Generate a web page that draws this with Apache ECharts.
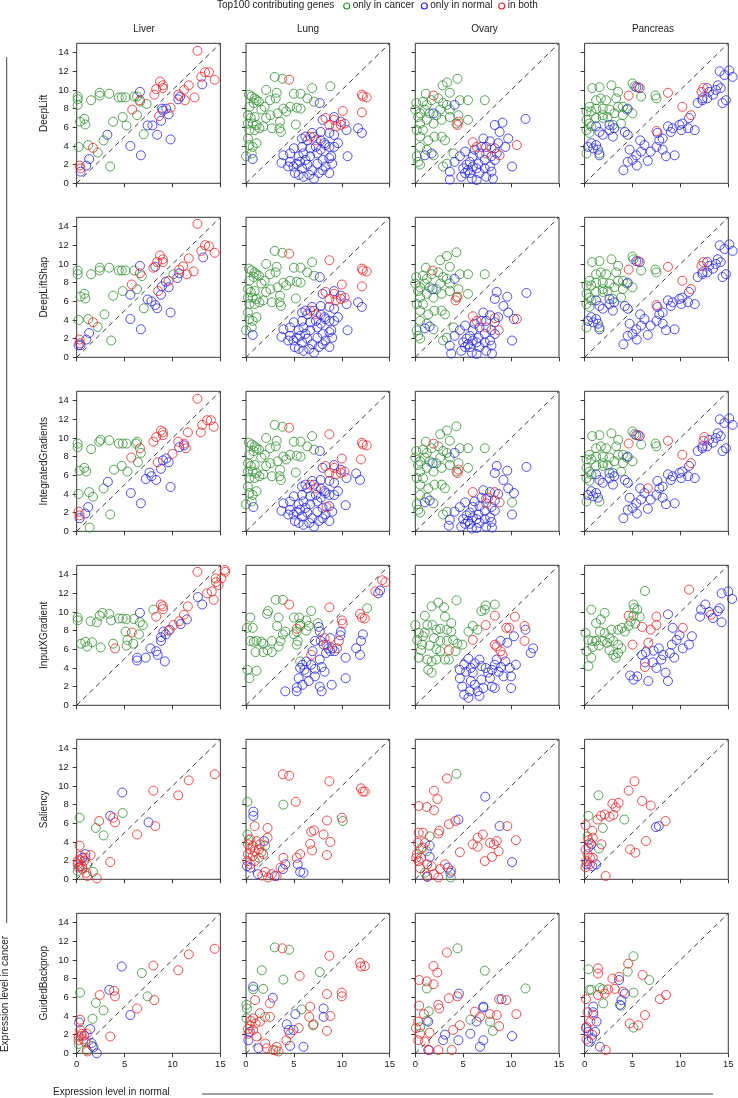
<!DOCTYPE html>
<html><head><meta charset="utf-8">
<script src="https://cdn.jsdelivr.net/npm/echarts@6/dist/echarts.min.js"></script>
<style>html,body{margin:0;padding:0;background:#fff}#c{width:738px;height:1098px}</style>
</head><body><div id="c"></div>
<script>
var tissues = ['Liver','Lung','Ovary','Pancreas'];
var methods = ['DeepLift','DeepLiftShap','IntegratedGradients','InputXGradient','Saliency','GuidedBackprop'];
var groupKeys = ['cancer','normal','both'];
var groupNames = ['only in cancer','only in normal','in both'];
var groupColors = ['#2f8f2f','#2424ee','#ee2424'];
var xTicks = [0,5,10,15];
var yTicks = [0,2,4,6,8,10,12,14];
var diagonal = [[0,0],[15,15]];

// ---- Liver ----
var DeepLift_Liver_cancer = [0.1,9.3, 0.1,9.0, 0.1,8.4, 0.35,6.6, 0.8,6.9, 0.9,6.3, 0.2,3.9, 1.2,4.1, 1.5,8.9, 2.4,9.4, 2.4,9.7, 3.4,9.6, 4.4,9.2, 4.7,9.2, 5.1,9.2, 6.0,9.3, 6.3,9.3, 3.8,6.6, 4.8,7.1, 5.2,6.2, 6.3,7.3, 6.6,8.75, 7.0,5.25, 7.3,8.5, 2.8,4.6, 3.5,1.8, 2.2,3.3];
var DeepLift_Liver_normal = [6.6,9.8, 3.2,5.2, 5.6,4.0, 6.7,3.0, 7.4,6.2, 7.9,6.2, 8.4,5.2, 8.8,6.7, 9.0,7.8, 9.35,8.0, 9.6,7.4, 9.8,4.7, 10.6,9.0, 10.8,9.3, 13.1,10.6, 1.3,2.6, 1.0,1.9, 0.4,1.25, 8.9,8.0];
var DeepLift_Liver_both = [12.6,14.2, 13.0,11.4, 13.4,11.9, 13.8,11.9, 14.4,11.1, 12.3,9.2, 11.7,10.5, 11.3,8.9, 10.6,9.5, 11.2,10.0, 8.7,10.9, 9.0,10.5, 9.0,10.2, 8.3,10.1, 8.1,9.5, 6.6,8.9, 5.8,7.9, 8.6,7.2, 9.8,8.1, 1.7,3.8, 0.3,1.9, 0.4,1.6];
var DeepLiftShap_Liver_cancer = [0.1,9.3, 0.1,8.9, 0.4,6.5, 0.8,6.8, 0.9,6.3, 0.2,4.0, 1.2,4.1, 1.5,8.9, 2.4,9.3, 2.4,9.6, 3.4,9.6, 4.4,9.3, 4.7,9.3, 5.1,9.3, 6.0,9.3, 3.8,6.6, 4.8,7.1, 6.3,7.3, 6.8,8.7, 7.0,5.25, 2.2,3.25, 2.9,4.6, 3.6,1.8, 10.1,8.9];
var DeepLiftShap_Liver_normal = [6.6,9.8, 8.2,9.7, 5.6,6.7, 5.6,4.1, 6.7,3.0, 7.4,6.2, 7.8,6.0, 8.2,5.6, 8.4,5.25, 8.8,6.7, 8.9,7.6, 9.3,8.1, 9.6,7.5, 9.8,4.8, 10.5,8.5, 10.7,9.0, 13.2,10.7, 1.3,2.6, 1.0,1.9, 0.2,1.3, 0.4,1.3];
var DeepLiftShap_Liver_both = [12.6,14.3, 13.0,11.4, 13.4,12.0, 13.8,11.9, 14.4,11.2, 12.2,9.2, 11.7,10.6, 11.5,8.9, 11.1,9.75, 10.7,9.4, 8.7,10.9, 9.0,10.5, 9.0,10.2, 8.4,10.2, 8.0,9.6, 5.75,7.8, 6.6,9.0, 8.5,7.1, 9.6,8.2, 1.7,3.75, 0.3,1.9, 0.35,1.5];
var IntegratedGradients_Liver_cancer = [0.1,9.4, 0.1,9.0, 0.3,6.5, 0.8,6.8, 1.0,6.4, 0.2,4.0, 1.3,4.2, 1.5,8.8, 2.35,9.6, 2.5,9.8, 3.4,9.75, 4.4,9.4, 4.8,9.4, 5.2,9.4, 6.2,9.4, 6.3,9.6, 3.9,6.6, 4.7,7.0, 5.3,6.4, 6.4,7.4, 6.7,8.4, 2.8,4.6, 3.5,1.8, 1.35,0.4, 1.7,3.7];
var IntegratedGradients_Liver_normal = [3.25,5.3, 5.65,4.1, 6.7,3.0, 7.2,5.6, 7.6,6.3, 7.8,5.9, 8.3,5.5, 8.8,6.7, 9.0,7.6, 9.35,7.8, 9.6,7.4, 9.8,4.75, 10.7,9.0, 11.2,9.2, 1.2,2.6, 0.9,1.9, 0.3,1.4];
var IntegratedGradients_Liver_both = [12.6,14.2, 13.1,11.4, 13.6,11.9, 14.0,11.9, 14.3,11.2, 12.95,10.6, 11.6,10.6, 11.4,8.9, 11.2,9.4, 10.6,9.6, 8.8,10.8, 9.0,10.6, 9.0,10.3, 8.3,10.1, 8.0,9.6, 6.6,8.9, 5.7,7.9, 8.45,7.4, 10.0,8.3, 0.2,2.1, 0.3,1.7];
var InputXGradient_Liver_cancer = [0.1,9.4, 0.1,9.1, 0.45,6.6, 0.9,6.8, 1.1,6.3, 1.6,6.75, 2.5,6.2, 1.45,9.0, 2.1,8.9, 2.4,9.6, 2.7,9.9, 3.4,9.8, 3.6,9.1, 4.4,9.3, 4.8,9.3, 5.2,9.25, 5.95,9.25, 6.6,8.9, 6.9,8.6, 5.1,7.9, 5.3,7.0, 5.2,6.4, 5.9,6.6, 6.5,7.6, 3.8,6.6, 8.0,10.25];
var InputXGradient_Liver_normal = [6.6,9.9, 6.3,5.1, 6.3,4.8, 7.2,5.1, 7.7,6.1, 8.3,5.8, 8.45,5.4, 9.2,4.7, 8.8,6.9, 9.05,7.9, 9.3,7.6, 9.7,8.1, 8.8,7.3, 10.85,8.7, 11.5,9.2, 12.65,11.6, 13.1,10.8];
var InputXGradient_Liver_both = [12.6,14.3, 15.45,14.5, 15.5,14.3, 14.5,13.6, 14.55,13.2, 14.8,12.9, 15.1,13.6, 13.6,12.0, 14.1,12.2, 14.3,11.3, 8.8,10.8, 9.0,10.6, 9.0,10.3, 8.3,9.5, 4.0,6.1, 5.75,7.8, 11.6,10.6, 11.2,9.7, 10.7,9.0, 10.1,8.6, 9.6,8.0];
var Saliency_Liver_cancer = [0.3,6.6, 2.0,5.5, 2.8,4.7, 4.8,7.1, 0.1,0.9, 1.7,0.8, 1.1,1.6];
var Saliency_Liver_normal = [4.75,9.3, 3.5,6.8, 7.5,6.1, 0.9,2.7, 0.6,2.3, 0.3,1.4];
var Saliency_Liver_both = [8.0,9.5, 11.7,10.6, 10.6,9.0, 14.4,11.25, 4.0,6.1, 2.35,6.25, 8.2,5.7, 6.3,4.8, 3.5,1.85, 0.3,3.6, 0.1,1.6, 0.3,2.1, 0.55,1.4, 0.8,2.0, 0.4,2.5, 1.0,0.7, 1.45,2.6, 1.1,0.35, 2.1,0.1, 0.2,1.25, 0.6,1.1, 0.9,2.3, 0.1,1.95, 3.8,6.6];
var GuidedBackprop_Liver_cancer = [0.35,6.5, 2.0,5.4, 2.8,4.6, 1.65,3.7, 6.8,8.6, 7.4,6.1, 1.05,0.35, 1.6,0.8, 0.2,1.0];
var GuidedBackprop_Liver_normal = [4.7,9.3, 3.4,6.8, 5.6,4.1, 0.25,3.3, 1.4,2.6, 1.55,1.1, 1.75,0.65, 2.1,0.0, 0.8,1.9];
var GuidedBackprop_Liver_both = [8.0,9.4, 10.6,8.9, 11.7,10.6, 14.4,11.2, 3.9,6.7, 4.0,6.1, 2.4,6.25, 8.1,5.7, 6.3,4.8, 3.5,1.8, 0.35,3.6, 0.2,1.8, 0.35,2.5, 0.5,2.1, 0.7,1.5, 0.2,1.4, 1.05,2.1, 1.1,0.2, 0.5,1.9, 0.9,1.2];

// ---- Lung ----
var DeepLift_Lung_cancer = [0.3,9.5, 0.6,9.3, 0.9,9.1, 1.1,8.9, 0.35,8.2, 0.8,8.6, 1.35,8.75, 0.2,7.3, 0.5,7.0, 0.9,7.1, 0.2,6.4, 0.7,6.4, 1.1,6.25, 1.6,7.9, 0.35,5.7, 0.9,5.7, 1.4,5.9, 0.2,4.8, 0.35,4.1, 0.7,3.9, 1.1,4.3, 0,2.9, 0.6,3.2, 2.1,10.0, 3.0,11.4, 3.8,11.2, 3.2,9.7, 3.1,9.1, 2.5,8.9, 1.95,8.2, 2.55,7.3, 3.3,7.5, 3.55,6.6, 3.5,5.9, 3.65,5.5, 2.7,5.9, 1.8,6.1, 5.0,9.6, 5.7,9.6, 6.4,9.1, 6.9,10.2, 8.8,10.4, 3.9,8.0, 4.6,8.2, 5.3,8.1, 5.7,8.0, 5.2,6.3, 7.1,8.75, 4.2,7.7, 2.1,7.0];
var DeepLift_Lung_normal = [7.7,8.6, 8.0,6.8, 9.2,7.1, 9.9,6.6, 10.5,5.7, 11.7,5.9, 12.1,5.4, 10.6,2.9, 9.0,2.1, 8.7,2.7, 8.7,5.4, 9.2,5.2, 9.2,3.9, 8.3,4.1, 0.7,2.6, 3.7,2.2, 4.6,3.2, 5.0,3.75, 4.6,2.3, 4.4,1.8, 5.1,1.1, 5.5,0.9, 6.0,0.7, 7.1,0.5, 5.85,1.6, 6.4,2.0, 6.9,1.4, 7.6,1.1, 8.0,1.4, 7.45,2.1, 6.7,2.9, 6.0,3.2, 5.5,2.9, 5.3,2.1, 5.85,3.9, 6.4,4.6, 7.1,5.0, 7.3,3.9, 7.8,3.6, 6.7,3.75, 6.2,5.0, 7.8,4.6, 8.2,4.3, 8.3,1.8, 8.7,1.1, 8.0,2.5, 4.95,1.8, 5.65,2.3, 6.2,2.5, 6.6,0.9, 7.45,3.2, 8.9,2.9, 7.8,5.5, 6.9,5.4, 8.7,3.9, 9.6,4.3, 3.9,3.0, 5.85,4.8];
var DeepLift_Lung_both = [4.5,11.1, 12.1,9.5, 12.2,9.3, 12.6,9.2, 12.1,7.6, 10.1,7.75, 8.3,7.0, 9.2,6.8, 8.7,6.25, 9.9,6.25, 10.3,6.4, 9.4,6.1, 6.7,5.0, 7.3,4.6];
var DeepLiftShap_Lung_cancer = [0.3,9.5, 0.6,9.3, 0.9,9.1, 1.1,8.9, 0.35,8.2, 0.8,8.6, 1.35,8.75, 0.2,7.3, 0.5,7.0, 0.9,7.1, 0.2,6.4, 0.7,6.4, 1.1,6.25, 1.6,7.9, 0.35,5.7, 0.9,5.7, 1.4,5.9, 0.2,4.8, 0.35,4.1, 0.7,3.9, 1.1,4.3, 0,2.9, 0.6,3.2, 2.1,10.0, 3.0,11.4, 3.8,11.2, 3.2,9.7, 3.1,9.1, 2.5,8.9, 1.95,8.2, 2.55,7.3, 3.3,7.5, 3.55,6.6, 3.5,5.9, 3.65,5.5, 2.7,5.9, 1.8,6.1, 5.0,9.6, 5.7,9.6, 6.4,9.1, 6.9,10.2, 3.9,8.0, 4.6,8.2, 5.3,8.1, 5.7,8.0, 5.2,6.3, 7.1,8.75, 4.2,7.7, 2.1,7.0];
var DeepLiftShap_Lung_normal = [7.7,8.6, 8.0,6.8, 9.2,7.1, 9.9,6.6, 10.5,5.7, 11.7,5.9, 12.1,5.4, 10.6,2.9, 9.0,2.1, 8.7,2.7, 8.7,5.4, 9.2,5.2, 9.2,3.9, 8.3,4.1, 0.7,2.4, 3.7,2.2, 4.6,3.2, 5.0,3.75, 4.6,2.3, 4.4,1.8, 5.1,1.1, 5.5,0.9, 6.0,0.7, 7.1,0.5, 5.85,1.6, 6.4,2.0, 6.9,1.4, 7.6,1.1, 8.0,1.4, 7.45,2.1, 6.7,2.9, 6.0,3.2, 5.5,2.9, 5.3,2.1, 5.85,3.9, 6.4,4.6, 7.1,5.0, 7.3,3.9, 7.8,3.6, 6.7,3.75, 6.2,5.0, 7.8,4.6, 8.2,4.3, 8.3,1.8, 8.7,1.1, 8.0,2.5, 4.95,1.8, 5.65,2.3, 6.2,2.5, 6.6,0.9, 7.45,3.2, 8.9,2.9, 7.8,5.5, 6.9,5.4, 8.7,3.9, 9.6,4.3, 3.9,3.0, 5.85,4.8];
var DeepLiftShap_Lung_both = [4.5,11.1, 8.7,10.4, 12.1,9.5, 12.2,9.3, 12.6,9.2, 12.1,7.6, 10.0,7.8, 8.3,7.0, 9.2,6.8, 8.7,6.25, 9.9,6.25, 10.3,6.4, 9.4,6.1, 6.7,5.0, 7.3,4.6];
var IntegratedGradients_Lung_cancer = [0.3,9.5, 0.6,9.3, 0.9,9.1, 1.1,8.9, 0.35,8.2, 0.8,8.6, 1.35,8.75, 0.2,7.3, 0.5,7.0, 0.9,7.1, 0.2,6.4, 0.7,6.4, 1.1,6.25, 1.6,7.9, 0.35,5.7, 0.9,5.7, 1.4,5.9, 0.2,4.8, 0.35,4.1, 0.7,3.9, 1.1,4.3, 0,2.9, 0.6,3.2, 2.1,10.0, 3.0,11.4, 3.8,11.2, 3.2,9.7, 3.1,9.1, 2.5,8.9, 1.95,8.2, 2.55,7.3, 3.3,7.5, 3.55,6.6, 3.5,5.9, 3.65,5.5, 2.7,5.9, 1.8,6.1, 5.0,9.6, 5.7,9.6, 6.4,9.1, 6.9,10.2, 3.9,8.0, 4.6,8.2, 5.3,8.1, 5.7,8.0, 5.2,6.3, 7.1,8.75, 4.2,7.7, 2.1,7.0];
var IntegratedGradients_Lung_normal = [7.7,8.6, 8.0,6.8, 9.2,7.1, 9.9,6.6, 10.5,5.7, 11.5,6.2, 11.9,5.5, 10.4,2.8, 9.0,2.1, 8.7,2.7, 8.7,5.4, 9.2,5.2, 9.2,3.9, 8.3,4.1, 0.77,2.6, 3.7,2.2, 4.6,3.2, 5.0,3.75, 4.6,2.3, 4.4,1.8, 5.1,1.1, 5.5,0.9, 6.0,0.7, 7.1,0.5, 5.85,1.6, 6.4,2.0, 6.9,1.4, 7.6,1.1, 8.0,1.4, 7.45,2.1, 6.7,2.9, 6.0,3.2, 5.5,2.9, 5.3,2.1, 5.85,3.9, 6.4,4.6, 7.1,5.0, 7.3,3.9, 7.8,3.6, 6.7,3.75, 6.2,5.0, 7.8,4.6, 8.2,4.3, 8.3,1.8, 8.7,1.1, 8.0,2.5, 4.95,1.8, 5.65,2.3, 6.2,2.5, 6.6,0.9, 7.45,3.2, 7.8,5.5, 6.9,5.4, 8.7,3.9, 9.6,4.3, 3.9,3.0, 5.85,4.8];
var IntegratedGradients_Lung_both = [4.5,11.1, 8.7,10.4, 12.1,9.5, 12.2,9.3, 12.6,9.2, 12.0,7.7, 10.0,7.8, 8.3,7.0, 9.2,6.8, 8.7,6.25, 9.9,6.25, 10.3,6.4, 9.4,6.1, 6.7,5.0, 7.3,4.6, 8.4,2.6];
var InputXGradient_Lung_cancer = [0.36,2.9, 0.15,3.8, 1.1,3.7, 0.1,8.3, 0.45,9.4, 0.7,8.3, 0.45,6.9, 0.8,6.8, 1.1,6.9, 1.6,6.8, 1.8,6.6, 1.0,5.7, 1.8,5.7, 2.25,5.9, 2.7,5.7, 2.7,6.9, 3.1,11.3, 3.85,11.3, 2.2,9.8, 2.3,10.1, 3.4,9.4, 3.25,8.5, 3.85,7.6, 4.1,7.9, 3.6,6.9, 3.4,6.3, 5.0,9.4, 5.55,9.4, 6.8,10.1, 7.5,8.8, 5.65,8.7, 5.65,8.5, 5.0,7.6, 5.3,7.9, 5.4,6.9, 5.3,6.5, 5.65,4.7, 6.3,8.0, 6.55,8.5, 6.3,9.1, 12.65,10.4];
var InputXGradient_Lung_normal = [7.6,8.4, 13.8,12.0, 14.0,12.3, 12.2,7.6, 12.0,6.9, 11.5,6.1, 11.9,5.4, 10.4,5.1, 10.4,2.9, 9.9,7.9, 4.1,1.5, 5.3,1.9, 5.3,1.5, 5.5,2.9, 5.65,4.0, 6.1,3.8, 6.3,4.7, 6.8,4.35, 7.2,3.9, 7.7,4.9, 7.8,6.9, 8.1,6.5, 8.6,6.1, 8.8,5.8, 8.35,5.6, 9.0,6.1, 9.25,5.8, 7.9,4.1, 8.2,3.6, 7.2,3.1, 6.55,2.6, 5.9,2.2, 7.7,2.0, 7.9,1.5, 8.95,2.2, 5.9,4.35, 6.95,5.8, 7.2,6.9, 7.7,7.9, 6.3,3.5, 8.8,7.2, 9.85,7.5];
var InputXGradient_Lung_both = [4.5,10.8, 8.7,10.5, 10.0,9.1, 10.1,8.75, 5.3,8.2, 11.9,9.8, 12.1,9.4, 12.4,9.3, 13.5,12.2, 14.2,13.4, 14.55,13.2, 8.2,7.2, 9.5,6.1, 9.7,6.9, 6.8,5.4, 8.4,6.5];
var Saliency_Lung_cancer = [0.15,8.3, 0.15,4.8, 3.9,8.0, 10.1,6.25, 2.0,3.6, 1.35,2.3, 0.3,4.2];
var Saliency_Lung_normal = [0.77,7.25, 0.77,6.8, 1.9,4.1, 4.1,1.6, 3.85,1.1, 5.4,1.6, 5.65,0.8, 6.0,0.7, 1.25,0.55, 3.0,0.35, 0.1,1.4, 0.45,1.25];
var Saliency_Lung_both = [3.85,11.25, 4.5,11.1, 5.2,8.3, 8.7,10.5, 12.0,9.75, 12.2,9.4, 12.4,9.4, 10.0,6.6, 6.8,5.1, 7.1,5.25, 8.1,4.8, 8.8,4.0, 6.7,3.8, 6.9,3.1, 8.45,6.3, 8.45,2.6, 5.65,2.7, 5.3,2.3, 3.9,2.3, 2.25,4.45, 0.9,5.7, 2.25,5.5, 0.2,3.75, 0.45,4.3, 0.7,3.6, 0.45,3.2, 0.2,2.7, 0.7,2.5, 0.9,3.0, 1.1,4.1, 1.35,3.2, 1.6,2.9, 1.45,3.75, 0.9,1.95, 0.45,1.6, 1.8,2.7, 0.15,1.95, 2.7,0.55, 3.2,0.35, 2.0,0.8, 3.6,1.25, 1.7,0.4, 2.3,0.2];
var GuidedBackprop_Lung_cancer = [3.0,11.35, 4.5,11.1, 1.65,8.9, 3.9,7.9, 7.7,8.7, 0.75,6.85, 1.8,6.9, 5.8,4.7, 0.05,5.2, 0.05,3.75, 2.0,3.9, 7.0,3.0, 3.1,0.3, 0.1,4.8];
var GuidedBackprop_Lung_normal = [0.75,7.15, 2.8,5.95, 4.25,3.1, 4.45,2.5, 4.95,2.5, 5.15,4.2, 4.6,0.8, 6.0,0.7, 8.1,4.8, 8.1,3.9, 0.25,1.4, 0.4,2.3, 1.3,0.55];
var GuidedBackprop_Lung_both = [3.8,11.25, 5.6,8.3, 8.7,10.45, 11.9,9.7, 12.0,9.3, 12.4,9.35, 10.0,6.5, 10.0,6.1, 8.45,6.35, 8.8,4.0, 6.7,5.0, 6.6,3.9, 7.05,3.1, 8.45,2.4, 5.5,2.7, 4.6,2.1, 4.2,1.4, 1.45,4.3, 0.95,5.7, 2.5,3.9, 2.5,5.35, 0.75,3.75, 0.4,3.0, 0.75,2.5, 0.25,2.1, 1.1,1.8, 2.0,1.05, 2.15,0.55, 2.85,0.35, 3.4,0.2, 3.2,0.7, 1.45,3.4, 0.2,2.6, 1.0,3.2, 0.5,3.5];

// ---- Ovary ----
var DeepLift_Ovary_cancer = [4.4,11.2, 3.3,10.8, 2.85,10.5, 3.6,9.7, 1.1,9.6, 0.1,8.6, 0,7.9, 0.3,7.1, 0.5,6.4, 0.8,8.75, 1.2,8.4, 1.7,8.9, 2.4,9.1, 2.9,8.6, 3.3,8.4, 3.6,7.9, 4.65,8.9, 5.5,8.9, 7.25,8.9, 5.5,6.8, 4.5,7.3, 3.6,7.1, 2.75,6.8, 1.9,6.4, 1.2,6.8, 0.8,5.7, 0.5,5.0, 1.35,4.6, 2.0,5.0, 2.75,5.0, 3.1,4.6, 0.5,3.9, 1.2,3.6, 1.9,3.0, 0.15,2.9, 0.3,2.3, 0.5,2.0, 2.9,1.8, 3.3,2.1, 2.2,7.3, 2.6,7.9, 1.5,7.5, 1.0,7.9, 0.5,7.5, 4.3,6.4, 0.15,5.7, 4.0,3.2];
var DeepLift_Ovary_normal = [4.1,8.4, 1.9,7.5, 1.7,3.2, 1.0,3.0, 11.5,6.9, 9.1,6.5, 8.3,6.25, 8.8,5.5, 9.7,4.8, 9.4,3.9, 10.1,1.8, 8.1,0.5, 5.7,2.3, 6.0,2.9, 6.7,3.2, 7.1,4.8, 7.8,4.5, 7.4,3.9, 8.3,3.75, 8.5,3.2, 7.95,2.9, 7.25,2.5, 6.6,2.1, 6.0,1.8, 5.5,1.4, 5.2,1.1, 4.8,0.7, 3.6,0.4, 3.6,1.25, 4.1,2.3, 4.65,2.9, 5.2,3.4, 5.9,0.5, 6.4,0.35, 6.7,1.1, 7.25,1.6, 7.8,1.8, 8.3,2.5, 6.4,1.6, 5.7,1.1, 6.2,3.6, 5.35,2.0, 5.0,1.6, 7.4,0.7, 7.95,1.25, 8.65,4.3, 6.9,3.9];
var DeepLift_Ovary_both = [1.9,9.4, 4.4,6.25, 4.5,6.6, 6.0,4.4, 10.6,4.1, 8.8,3.0, 6.4,3.9, 7.4,3.2, 7.95,3.75];
var DeepLiftShap_Ovary_cancer = [4.3,11.25, 3.3,10.85, 2.6,10.4, 3.6,9.7, 1.1,9.6, 0.1,8.6, 0,7.9, 0.3,7.1, 0.5,6.4, 0.8,8.75, 1.2,8.4, 1.7,8.9, 2.4,9.1, 2.9,8.6, 3.3,8.4, 3.6,7.9, 4.65,8.9, 5.5,8.9, 7.25,8.9, 5.5,6.8, 4.5,7.3, 3.6,7.1, 2.75,6.8, 1.9,6.4, 1.2,6.8, 0.8,5.7, 0.5,5.0, 1.35,4.6, 2.0,5.0, 2.75,5.0, 3.1,4.6, 0.5,3.9, 1.2,3.6, 1.9,3.0, 0.15,2.9, 0.3,2.3, 0.5,2.0, 2.9,1.8, 3.3,2.1, 2.2,7.3, 2.6,7.9, 1.5,7.5, 1.0,7.9, 0.5,7.5, 4.3,6.4, 0.15,5.7, 4.0,3.2];
var DeepLiftShap_Ovary_normal = [4.1,8.4, 1.8,7.3, 1.5,3.3, 1.0,3.1, 11.6,6.9, 9.6,6.5, 8.5,7.0, 8.3,6.25, 9.2,5.5, 9.7,4.8, 10.3,4.1, 10.1,1.8, 8.0,0.4, 5.7,2.3, 6.0,2.9, 6.7,3.2, 7.1,4.8, 7.8,4.5, 7.4,3.9, 8.3,3.75, 7.95,2.9, 7.25,2.5, 6.6,2.1, 6.0,1.8, 5.5,1.4, 5.2,1.1, 4.8,0.7, 3.75,0.4, 3.6,1.25, 4.1,2.3, 4.65,2.9, 5.2,3.4, 5.9,0.5, 6.4,0.35, 6.7,1.1, 7.25,1.6, 7.8,1.8, 8.3,2.5, 6.4,1.6, 5.7,1.1, 6.2,3.6, 5.35,2.0, 5.0,1.6, 7.4,0.7, 7.95,1.25, 8.65,4.3, 6.9,3.9];
var DeepLiftShap_Ovary_both = [1.8,9.3, 4.2,6.1, 4.4,6.5, 6.0,4.4, 10.6,4.1, 8.7,2.9, 6.4,3.9, 7.4,3.2, 8.3,4.2];
var IntegratedGradients_Ovary_cancer = [4.3,11.25, 3.3,10.8, 2.6,10.4, 3.6,9.7, 1.1,9.6, 0.1,8.6, 0,7.9, 0.3,7.1, 0.5,6.4, 0.8,8.75, 1.2,8.4, 1.7,8.9, 2.4,9.1, 2.9,8.6, 3.3,8.4, 3.6,7.9, 4.65,8.9, 5.5,8.9, 7.25,8.9, 5.5,6.8, 4.5,7.3, 3.6,7.1, 2.75,6.8, 1.9,6.4, 1.2,6.8, 0.8,5.7, 0.5,5.0, 1.35,4.6, 2.0,5.0, 2.75,5.0, 3.1,4.6, 0.5,3.9, 1.2,3.6, 1.9,3.0, 0.15,2.9, 0.3,2.3, 0.5,2.0, 2.9,1.8, 3.3,2.1, 2.2,7.3, 2.6,7.9, 1.5,7.5, 1.0,7.9, 0.5,7.5, 4.3,6.4, 0.15,5.7, 10.1,3.1];
var IntegratedGradients_Ovary_normal = [4.1,8.4, 1.8,7.3, 1.5,3.3, 1.0,3.1, 11.6,6.9, 9.6,6.5, 8.5,7.0, 8.3,6.25, 9.2,5.5, 9.7,4.6, 10.3,4.1, 10.1,1.8, 8.0,0.4, 5.7,2.0, 6.0,2.6, 6.7,2.7, 7.1,4.4, 7.8,4.2, 7.4,3.5, 8.3,3.3, 7.95,2.6, 7.25,2.2, 6.6,1.8, 6.0,1.5, 5.5,1.1, 5.2,0.8, 4.8,0.5, 3.5,0.6, 3.6,1.25, 4.1,2.1, 4.65,2.6, 5.2,3.1, 5.9,0.3, 6.4,0.35, 6.7,0.9, 7.25,1.3, 7.8,1.5, 8.3,2.2, 6.4,1.3, 5.7,0.8, 6.2,3.2, 5.35,1.7, 5.0,1.3, 7.4,0.5, 7.95,1.0, 8.65,4.0, 6.9,3.6];
var IntegratedGradients_Ovary_both = [1.9,9.4, 4.4,6.25, 4.5,6.6, 6.0,4.2, 8.8,3.1, 7.4,3.0, 8.3,4.2, 7.6,3.6];
var InputXGradient_Ovary_cancer = [0,8.6, 0.36,7.75, 0.8,7.4, 0.7,6.5, 0.6,5.9, 0.36,5.1, 1.25,4.9, 1.7,4.7, 2.2,4.9, 1.35,3.8, 1.7,3.5, 1.0,9.6, 1.7,10.6, 2.4,11.0, 3.0,10.5, 4.3,11.25, 1.25,8.6, 1.8,8.6, 2.2,8.1, 2.6,8.2, 3.1,9.5, 3.3,8.1, 3.75,8.8, 3.75,7.9, 3.95,7.0, 3.3,6.9, 2.6,6.9, 1.95,7.2, 1.5,6.4, 2.2,6.0, 2.6,5.8, 3.1,4.9, 3.5,4.9, 4.2,5.8, 4.4,6.6, 4.9,6.5, 5.55,7.9, 6.0,8.5, 6.5,8.1, 7.35,10.7, 7.25,10.25, 6.9,10.1, 8.3,10.8, 0.2,7.0, 1.0,7.8];
var InputXGradient_Ovary_normal = [11.5,8.1, 12.3,6.1, 12.05,5.6, 10.3,7.4, 9.6,6.7, 8.9,6.9, 10.5,4.35, 10.0,1.85, 9.2,3.1, 8.3,1.85, 4.65,2.9, 4.9,2.0, 5.1,1.15, 5.55,0.8, 5.7,1.5, 5.8,2.6, 6.2,2.2, 6.5,1.5, 6.7,1.0, 5.3,3.6, 5.8,4.0, 6.2,4.5, 6.7,4.9, 6.9,4.2, 7.35,4.0, 7.6,3.5, 7.8,2.9, 8.0,3.8, 8.3,4.35, 8.5,4.9, 8.7,3.6, 8.95,4.1, 9.4,4.7, 9.85,4.0, 10.0,3.1, 6.9,2.75, 7.1,1.85, 8.0,2.0, 6.0,3.5, 4.65,3.8, 5.1,4.35, 5.55,5.0];
var InputXGradient_Ovary_both = [8.3,9.6, 10.4,9.5, 7.35,8.6, 11.4,8.5, 9.5,8.3, 9.8,8.3, 6.0,7.0, 3.5,5.9, 8.3,6.5, 8.5,6.3, 8.9,5.8, 9.1,5.4, 11.4,6.9];
var Saliency_Ovary_cancer = [4.3,11.3, 1.0,0.7, 1.5,4.6, 0.6,3.3, 1.2,3.0, 3.7,0.2];
var Saliency_Ovary_normal = [7.3,8.85, 4.5,6.4, 8.8,5.7, 10.1,1.85, 1.5,3.6, 1.5,2.4, 3.4,1.25, 3.65,0.7, 1.25,0.25];
var Saliency_Ovary_both = [3.3,10.8, 1.95,9.5, 2.3,8.6, 1.95,7.4, 0.36,7.85, 1.2,7.75, 2.5,5.2, 2.4,4.9, 3.5,5.9, 4.65,2.9, 4.2,6.25, 6.0,3.75, 6.5,3.5, 7.05,4.8, 6.5,4.45, 7.25,1.95, 8.0,2.4, 7.8,3.9, 8.2,3.75, 8.5,4.1, 8.7,3.0, 9.6,5.7, 10.5,4.2, 0.15,2.7, 0.36,1.95, 0.6,2.3, 0.36,5.0, 0.8,5.0, 0.27,3.9, 0.8,3.4, 1.0,3.9, 1.25,1.6, 1.7,1.4, 1.95,0.55, 2.4,0.2, 1.25,0.35, 3.1,1.6, 2.6,1.1, 3.75,0.9, 0.1,2.3, 0.5,1.2];
var GuidedBackprop_Ovary_cancer = [4.4,11.25, 7.25,8.85, 11.5,6.95, 1.2,6.95, 5.75,3.6, 7.8,3.4, 8.1,2.4, 1.2,3.5, 1.4,4.5, 0.5,2.8];
var GuidedBackprop_Ovary_normal = [4.55,6.4, 7.1,5.0, 9.0,5.8, 6.4,3.4, 5.75,2.1, 7.1,1.4, 6.75,0.7, 10.1,1.85, 3.1,2.0, 2.9,1.4, 4.5,1.4, 1.35,3.4, 1.45,0.35, 7.1,4.9];
var GuidedBackprop_Ovary_both = [3.3,10.8, 1.9,9.35, 2.3,8.65, 0.4,7.85, 1.2,7.7, 1.9,7.4, 2.4,5.2, 2.5,4.8, 3.5,5.9, 4.4,6.1, 4.65,3.0, 3.95,2.5, 6.2,4.45, 7.8,4.2, 8.5,4.1, 8.75,2.9, 8.75,5.8, 9.5,5.7, 10.55,4.2, 6.75,3.9, 0.4,5.1, 0.3,3.4, 0.07,2.7, 0.5,2.1, 0.3,1.4, 1.0,1.25, 1.35,0.35, 2.4,0.35, 3.8,0.35, 0.9,4.2, 1.5,2.2];

// ---- Pancreas ----
var DeepLift_Pancreas_cancer = [0.8,10.2, 1.55,10.3, 2.8,10.5, 3.5,9.8, 5.0,10.7, 5.2,10.4, 5.9,9.3, 7.4,9.4, 7.5,9.1, 2.25,8.9, 1.2,8.9, 1.7,9.1, 0.5,8.2, 0.2,7.7, 0.7,7.7, 1.2,8.0, 1.9,8.0, 2.6,7.9, 3.3,9.1, 3.5,8.2, 4.0,8.2, 3.1,7.5, 4.0,7.3, 5.0,7.5, 4.4,7.9, 0.2,6.8, 0.5,6.4, 0.2,5.7, 0.7,6.1, 1.2,7.0, 1.9,7.0, 2.4,7.1, 2.95,6.25, 3.8,6.4, 0.2,3.2, 1.55,3.2, 1.9,7.3, 0.5,5.4];
var DeepLift_Pancreas_normal = [5.4,10.3, 5.75,10.2, 4.5,8.0, 4.5,5.2, 2.6,6.25, 2.6,5.7, 1.9,5.2, 2.95,5.0, 1.2,6.1, 1.55,5.5, 0.7,4.3, 0.35,3.9, 0.9,3.75, 1.4,3.6, 1.55,3.0, 1.2,4.1, 4.2,5.5, 3.1,5.9, 4.05,1.4, 4.5,2.3, 5.0,2.5, 5.45,1.9, 4.7,3.6, 5.4,3.0, 5.9,3.4, 6.25,4.1, 5.8,4.6, 6.6,2.4, 6.9,3.4, 7.5,3.9, 7.8,4.6, 8.15,3.6, 8.15,4.8, 8.5,2.9, 8.7,6.1, 9.0,5.5, 9.4,3.0, 9.2,5.9, 10.1,5.7, 10.8,5.9, 11.5,5.7, 9.9,6.25, 10.2,6.4, 10.9,7.0, 11.8,8.6, 12.3,9.1, 12.8,9.1, 13.4,9.5, 13.7,10.0, 14.2,10.2, 14.4,8.6, 14.1,12.0, 14.6,11.6, 15.1,12.1, 15.45,11.4, 14.75,8.9, 13.0,9.8, 12.8,10.2, 13.9,10.5, 12.3,8.9, 7.6,5.4];
var DeepLift_Pancreas_both = [4.6,9.4, 5.6,10.3, 8.7,9.7, 10.2,8.2, 11.1,7.3, 7.5,5.6, 12.2,9.8, 12.4,10.2];
var DeepLiftShap_Pancreas_cancer = [0.8,10.2, 1.55,10.3, 2.8,10.5, 3.5,9.8, 5.0,10.8, 5.1,10.5, 5.9,9.3, 7.4,9.4, 7.5,9.1, 2.25,8.9, 1.2,8.9, 1.7,9.1, 0.5,8.2, 0.2,7.7, 0.7,7.7, 1.2,8.0, 1.9,8.0, 2.6,7.9, 3.3,9.1, 3.5,8.2, 4.0,8.2, 3.1,7.5, 4.0,7.3, 5.0,7.5, 4.4,7.9, 0.2,6.8, 0.5,6.4, 0.2,5.7, 0.7,6.1, 1.2,7.0, 1.9,7.0, 2.4,7.1, 2.95,6.25, 3.8,6.4, 0.2,3.2, 1.55,3.2, 1.9,7.3, 0.5,5.4];
var DeepLiftShap_Pancreas_normal = [5.4,10.3, 5.75,10.2, 4.5,8.0, 4.5,5.2, 2.6,6.25, 2.6,5.7, 1.9,5.2, 2.95,5.0, 1.2,6.1, 1.55,5.5, 0.7,4.3, 0.35,3.9, 0.9,3.75, 1.4,3.6, 1.55,3.0, 1.2,4.1, 4.2,5.5, 3.1,5.9, 4.05,1.4, 4.5,2.3, 5.0,2.5, 5.45,1.9, 4.7,3.6, 5.4,3.0, 5.9,3.4, 6.25,4.1, 5.8,4.6, 6.6,2.4, 6.9,3.4, 7.5,3.9, 7.8,4.6, 8.15,3.6, 8.15,4.8, 8.5,2.9, 8.7,6.1, 9.0,5.5, 9.4,3.0, 9.2,5.9, 10.1,5.7, 10.8,5.9, 11.5,5.7, 9.9,6.25, 10.2,6.4, 10.9,7.0, 11.8,8.6, 12.3,9.1, 12.8,9.1, 13.4,9.5, 13.7,10.0, 14.2,10.2, 14.4,8.6, 14.1,12.0, 14.6,11.6, 15.1,12.1, 15.45,11.4, 14.75,8.9, 13.0,9.8, 12.8,10.2, 13.9,10.5, 12.3,8.9, 7.6,5.4];
var DeepLiftShap_Pancreas_both = [4.6,9.4, 5.6,10.3, 8.7,9.7, 10.2,8.2, 11.1,7.3, 7.5,5.6, 12.2,9.8, 12.4,10.2];
var IntegratedGradients_Pancreas_cancer = [0.8,10.2, 1.55,10.3, 2.8,10.5, 3.5,9.8, 5.0,10.7, 5.2,10.4, 5.9,9.3, 7.4,9.4, 7.5,9.1, 2.25,8.9, 1.2,8.9, 1.7,9.1, 0.5,8.2, 0.2,7.7, 0.7,7.7, 1.2,8.0, 1.9,8.0, 2.6,7.9, 3.3,9.1, 3.5,8.2, 4.0,8.2, 3.1,7.5, 4.0,7.3, 5.0,7.5, 4.4,7.9, 0.2,6.8, 0.5,6.4, 0.2,5.7, 0.7,6.1, 1.2,7.0, 1.9,7.0, 2.4,7.1, 2.95,6.25, 3.8,6.4, 0.2,3.2, 1.55,3.2, 1.9,7.3, 0.5,5.4];
var IntegratedGradients_Pancreas_normal = [5.4,10.3, 5.75,10.2, 4.5,8.0, 4.5,5.2, 2.6,6.25, 2.6,5.7, 1.9,5.2, 2.95,5.0, 1.2,6.1, 1.55,5.5, 0.7,4.3, 0.35,3.9, 0.9,3.75, 1.4,3.6, 1.2,4.1, 4.2,5.5, 3.1,5.9, 4.05,1.4, 4.5,2.3, 5.0,2.5, 5.45,1.9, 4.7,3.6, 5.4,3.0, 5.9,3.4, 6.25,4.1, 5.8,4.6, 6.6,2.4, 6.9,3.4, 7.5,3.9, 7.8,4.6, 8.15,3.6, 8.15,4.8, 8.5,2.9, 8.7,6.1, 9.0,5.5, 9.4,3.0, 9.2,5.9, 10.1,5.7, 10.8,5.9, 11.5,5.7, 9.9,6.25, 10.2,6.4, 10.9,7.0, 11.8,8.6, 12.3,9.1, 12.8,9.1, 13.4,9.5, 13.7,10.0, 14.2,10.2, 14.4,8.6, 14.1,12.0, 14.6,11.6, 15.1,12.1, 15.45,11.4, 14.75,8.9, 13.0,9.8, 13.9,10.5, 12.3,8.9, 7.6,5.4];
var IntegratedGradients_Pancreas_both = [4.6,9.4, 5.6,10.3, 8.7,9.7, 10.2,8.2, 11.1,7.3, 6.6,4.6, 12.5,10.1, 12.4,9.7];
var InputXGradient_Pancreas_cancer = [0.1,7.75, 0.2,5.8, 0.4,4.2, 0.8,6.9, 1.2,6.9, 0.7,5.1, 0.7,10.25, 1.2,8.8, 1.7,9.2, 2.1,9.9, 1.6,7.9, 1.9,6.9, 2.35,6.7, 2.6,7.2, 3.0,6.9, 3.5,6.5, 2.8,8.1, 3.5,8.1, 3.9,8.3, 4.2,7.9, 4.6,8.5, 4.8,9.0, 5.1,9.6, 5.2,10.4, 5.1,10.8, 5.5,10.25, 5.75,9.5, 5.3,8.75, 6.3,12.25, 3.0,5.4, 3.5,5.6, 3.85,6.1, 3.25,5.1, 2.6,5.9, 0.85,6.25, 2.1,7.75, 1.5,6.4, 0.4,7.0];
var InputXGradient_Pancreas_normal = [8.7,9.75, 9.2,8.3, 9.6,7.0, 9.9,7.5, 10.25,6.1, 10.9,6.5, 11.2,7.4, 12.15,10.25, 12.05,9.5, 13.4,9.35, 13.9,10.1, 14.1,10.4, 14.3,12.0, 15.0,12.2, 15.4,11.4, 14.3,8.9, 4.75,3.2, 5.1,2.75, 5.5,3.1, 6.65,2.6, 6.3,4.6, 7.1,4.6, 7.5,4.0, 8.45,3.5, 8.7,2.6, 6.4,5.7, 7.2,5.85, 7.75,6.1, 8.2,5.4, 8.9,5.6, 9.1,6.5, 9.35,5.1, 8.0,4.9, 6.0,5.4, 13.0,10.0, 12.6,10.8];
var InputXGradient_Pancreas_both = [10.9,12.4, 4.6,9.6, 6.0,8.4, 6.9,8.1, 7.5,8.6, 7.5,9.5, 10.25,8.3, 5.0,6.5, 6.3,4.1, 6.65,6.7, 13.2,9.7];
var Saliency_Pancreas_cancer = [1.45,9.0, 0.4,6.8, 1.9,5.5, 4.15,6.4, 1.5,3.3, 0.3,4.6];
var Saliency_Pancreas_normal = [7.75,5.7, 7.45,5.6, 0.4,3.4, 0.7,3.75, 0.2,1.6, 0.8,1.4, 1.2,1.6];
var Saliency_Pancreas_both = [5.2,10.5, 4.6,9.5, 6.0,8.4, 6.9,7.9, 2.9,8.1, 3.55,8.2, 3.25,7.7, 2.1,6.95, 1.7,6.8, 1.35,6.4, 3.0,6.9, 0.1,5.8, 0.8,5.2, 0.85,4.45, 0.55,3.9, 1.75,3.75, 2.2,0.35, 4.75,3.2, 5.3,2.85, 6.4,4.1, 8.45,6.25, 0.1,3.2, 0.3,2.7, 0.55,2.3, 0.2,1.95, 0.55,1.6, 0.1,1.3, 0.85,2.3, 2.6,6.7, 0.4,4.2];
var GuidedBackprop_Pancreas_cancer = [5.1,10.4, 4.5,8.75, 0.4,9.0, 0.5,6.8, 1.9,6.85, 1.95,5.35, 3.8,5.1, 5.1,6.5, 6.75,7.85, 5.1,2.75, 0.7,6.8, 1.6,7.0];
var GuidedBackprop_Pancreas_normal = [3.6,7.85, 4.2,6.4, 3.85,5.7, 3.7,5.2, 0.9,5.0, 1.25,3.4, 1.6,0.7, 0.15,2.7, 0.4,2.3, 0.75,1.6, 0.4,1.25, 1.1,2.3, 0.9,4.4];
var GuidedBackprop_Pancreas_both = [4.55,9.6, 1.4,9.1, 1.4,8.55, 6.05,8.4, 2.9,8.0, 3.6,8.2, 3.15,6.9, 4.0,6.6, 2.45,6.85, 2.1,6.4, 1.4,6.25, 0.15,5.8, 4.7,3.2, 5.6,3.0, 6.3,4.1, 7.85,5.8, 8.5,6.25, 2.2,0.35, 0.2,2.85, 0.6,3.4, 0.9,4.1, 0.3,4.4, 0.8,2.0, 0.2,1.5];

// ---------- build ----------
var FONT = '"Liberation Sans", Arial, Helvetica, sans-serif';
var TXT = '#222';
var L0 = 76.7, DX = 169.3, W = 143.7, T0 = 43.3, DY = 174, H = 140;
function pairs(a){ var r=[]; for (var i=0;i<a.length;i+=2) r.push([a[i],a[i+1]]); return r; }

var grids=[], xAxes=[], yAxes=[], series=[], graphics=[];
methods.forEach(function(m, r){
  tissues.forEach(function(t, c){
    var i = grids.length;
    grids.push({left:L0+DX*c, top:T0+DY*r, width:W, height:H, show:true, borderColor:'#222', borderWidth:0.9, backgroundColor:'#fff'});
    xAxes.push({gridIndex:i, type:'value', min:0, max:15, interval:5,
      axisLine:{show:false}, splitLine:{show:false},
      axisTick:{show:true, length:4, customValues:xTicks, lineStyle:{color:'#222', width:0.9}},
      axisLabel:{show:r===methods.length-1, customValues:xTicks, margin:6, fontSize:9.5, color:TXT, fontFamily:FONT}});
    yAxes.push({gridIndex:i, type:'value', min:0, max:15,
      axisLine:{show:false}, splitLine:{show:false},
      axisTick:{show:true, length:4, customValues:yTicks, lineStyle:{color:'#222', width:0.9}},
      axisLabel:{show:c===0, customValues:yTicks, margin:8, fontSize:9.5, color:TXT, fontFamily:FONT}});
    series.push({type:'line', xAxisIndex:i, yAxisIndex:i, data:diagonal, symbol:'none', silent:true, z:1,
      lineStyle:{color:'#222', width:0.9, type:[5,4]}});
    groupKeys.forEach(function(g, k){
      var arr = window[m+'_'+t+'_'+g];
      series.push({type:'scatter', name:groupNames[k], xAxisIndex:i, yAxisIndex:i, data:pairs(arr),
        symbol:'circle', symbolSize:9, clip:false, silent:true, z:2,
        itemStyle:{color:'rgba(0,0,0,0)', borderColor:groupColors[k], borderWidth:1}});
    });
  });
  graphics.push({type:'text', x:44, y:T0+DY*r+H/2, rotation:Math.PI/2,
    style:{text:m, fontSize:10, fontFamily:FONT, fill:TXT, align:'center', verticalAlign:'middle'}});
});
var titleX = [144, 308, 484.5, 653];
tissues.forEach(function(t, c){
  graphics.push({type:'text', x:titleX[c], y:29.3, style:{text:t, fontSize:10, fontFamily:FONT, fill:TXT, align:'center', verticalAlign:'middle'}});
});
// legend
graphics.push({type:'text', x:217, y:5.5, style:{text:'Top100 contributing genes', fontSize:10, fontFamily:FONT, fill:TXT, align:'left', verticalAlign:'middle'}});
var legX = [346.7, 424.3, 501.7];
groupNames.forEach(function(n, k){
  graphics.push({type:'circle', shape:{cx:legX[k], cy:6, r:3}, style:{fill:'none', stroke:groupColors[k], lineWidth:1.2}});
  graphics.push({type:'text', x:legX[k]+6, y:5.5, style:{text:n, fontSize:10, fontFamily:FONT, fill:TXT, align:'left', verticalAlign:'middle'}});
});
// outer labels and lines
graphics.push({type:'line', shape:{x1:6.7, y1:57, x2:6.7, y2:923}, style:{stroke:'#444', lineWidth:1}});
graphics.push({type:'text', x:4.8, y:994, rotation:Math.PI/2, style:{text:'Expression level in cancer', fontSize:10, fontFamily:FONT, fill:TXT, align:'center', verticalAlign:'middle'}});
graphics.push({type:'text', x:53, y:1092, style:{text:'Expression level in normal', fontSize:10, fontFamily:FONT, fill:TXT, align:'left', verticalAlign:'middle'}});
graphics.push({type:'line', shape:{x1:202, y1:1094, x2:713, y2:1094}, style:{stroke:'#444', lineWidth:1}});

var chart = echarts.init(document.getElementById('c'), null, {renderer:'canvas'});
chart.setOption({
  animation:false, backgroundColor:'#fff',
  grid:grids, xAxis:xAxes, yAxis:yAxes, series:series, graphic:graphics
});
</script></body></html>
